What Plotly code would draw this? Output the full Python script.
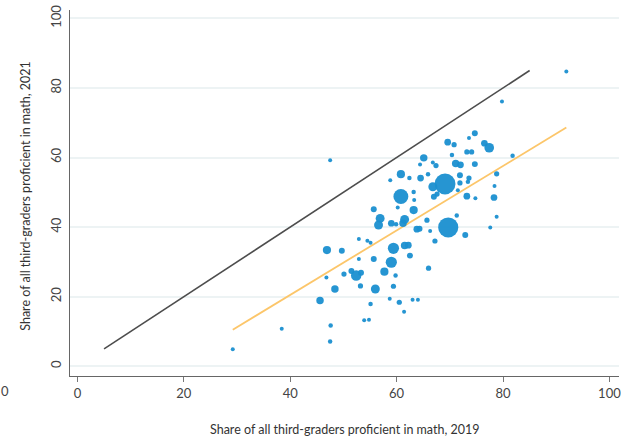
import plotly.graph_objects as go

# 2019 vs 2021 share of third-graders proficient in math (by district)
math_2019 = [74.7, 69.6, 70.8, 73.6, 76.5, 77.4, 73.2, 74.1, 70.4, 65.1,
             47.5, 81.8, 66.8, 67.4, 71.1, 72.0, 74.7, 64.4, 60.8, 64.5,
             65.9, 62.4, 58.8, 71.9, 73.6, 73.4, 78.8, 69.1, 66.8, 71.9,
             78.4, 60.8, 63.2, 63.3, 67.0, 67.6, 73.2, 74.8, 78.3, 71.5,
             55.7, 60.2, 63.2, 56.9, 56.6, 59.0, 59.9, 61.5, 61.2, 65.7,
             71.3, 78.8, 69.7, 63.8, 64.3, 77.6, 72.9, 66.3, 52.9, 54.5,
             55.1, 46.9, 49.7, 59.4, 61.5, 62.2, 67.2, 52.9, 55.7, 62.5,
             59.0, 66.0, 50.1, 51.5, 52.4, 53.3, 46.8, 57.7, 59.8, 48.4,
             53.2, 56.0, 59.4, 45.6, 55.1, 58.7, 60.5, 63.0, 64.0, 61.4,
             53.9, 54.8, 47.6, 47.5, 38.4, 29.2, 79.8, 91.9]
math_2021 = [67.0, 64.4, 63.7, 65.6, 64.1, 62.8, 61.6, 61.6, 60.7, 59.9,
             59.2, 60.5, 58.6, 57.7, 58.3, 57.9, 58.1, 58.0, 55.2, 54.1,
             55.2, 54.1, 53.5, 54.9, 54.1, 53.0, 55.3, 52.4, 51.6, 52.7,
             51.8, 48.8, 50.1, 47.8, 48.7, 49.5, 48.9, 48.3, 48.5, 50.6,
             45.1, 45.6, 44.9, 42.5, 40.6, 41.1, 40.8, 42.2, 41.1, 42.0,
             43.3, 43.0, 39.9, 39.4, 39.5, 39.9, 37.7, 38.9, 36.6, 36.1,
             35.5, 33.4, 33.2, 33.9, 34.7, 34.8, 36.0, 30.8, 30.8, 31.8,
             29.9, 28.2, 26.5, 27.4, 26.1, 26.9, 25.5, 27.2, 26.1, 22.2,
             23.1, 22.2, 23.0, 18.9, 17.9, 19.4, 18.4, 19.1, 19.1, 15.7,
             13.2, 13.4, 11.7, 7.1, 10.8, 4.9, 76.1, 84.7]
enrollment_weight = [64, 81, 49, 16, 81, 169, 49, 49, 36, 100,
                     9, 36, 25, 49, 100, 81, 64, 16, 121, 81,
                     36, 36, 16, 64, 49, 36, 49, 784, 144, 49,
                     25, 400, 36, 16, 64, 49, 81, 25, 81, 25,
                     64, 25, 121, 144, 144, 81, 36, 144, 100, 49,
                     36, 16, 729, 81, 64, 25, 64, 25, 16, 25,
                     16, 121, 64, 225, 100, 81, 49, 25, 64, 64,
                     225, 49, 49, 64, 196, 64, 16, 121, 36, 100,
                     49, 144, 49, 100, 36, 25, 49, 25, 25, 16,
                     25, 25, 36, 36, 9, 9, 25, 9]

# 45-degree reference line and fitted line endpoints
ref_x = [5, 85]
ref_y = [5, 85]
fit_x = [29.2, 91.9]
fit_y = [10.5, 68.6]

x_ticks = [0, 20, 40, 60, 80, 100]
y_ticks = [0, 20, 40, 60, 80, 100]

font_family = "Lato, 'Open Sans', sans-serif"

fig = go.Figure()
fig.add_trace(go.Scatter(x=ref_x, y=ref_y, mode="lines",
                         line=dict(color="#4d4d4d", width=1.6),
                         hoverinfo="skip", showlegend=False))
fig.add_trace(go.Scatter(x=fit_x, y=fit_y, mode="lines",
                         line=dict(color="#fcc66a", width=1.8),
                         hoverinfo="skip", showlegend=False))
fig.add_trace(go.Scatter(x=math_2019, y=math_2021, mode="markers",
                         marker=dict(size=enrollment_weight, sizemode="area",
                                     sizeref=3.6, sizemin=2.0,
                                     color="#1a8fd0", opacity=0.95,
                                     line=dict(width=0)),
                         showlegend=False))

fig.update_layout(
    width=621, height=437,
    margin=dict(l=70, r=0, t=10, b=61),
    paper_bgcolor="white", plot_bgcolor="white",
    font=dict(family=font_family, size=13, color="#444"),
    xaxis=dict(range=[-1.4, 101.8], tickvals=x_ticks, showgrid=False,
               zeroline=False, showline=True, linecolor="#666", linewidth=1.3,
               ticks="outside", ticklen=5, tickcolor="#777",
               ticklabeloverflow="allow",
               tickfont=dict(size=13, color="#444")),
    yaxis=dict(range=[-2.8, 102.4], tickvals=y_ticks, showgrid=True,
               gridcolor="#edf3f4", gridwidth=1.6, zeroline=False,
               showline=True, linecolor="#666", linewidth=1.3,
               ticks="", tickangle=-90, ticklabelstandoff=3,
               tickfont=dict(size=13, color="#444")),
    annotations=[
        dict(text="Share of all third-graders proficient in math, 2019",
             xref="paper", yref="paper", x=0.5, y=-0.145,
             xanchor="center", yanchor="middle", showarrow=False,
             font=dict(size=12.5, color="#333")),
        dict(text="Share of all third-graders proficient in math, 2021",
             xref="paper", yref="paper", x=-0.08, y=0.49, textangle=-90,
             xanchor="center", yanchor="middle", showarrow=False,
             font=dict(size=12.5, color="#333")),
        dict(text="0", xref="paper", yref="paper", x=-0.118, y=-0.04,
             xanchor="center", yanchor="middle", showarrow=False,
             font=dict(size=13, color="#444")),
    ],
)

fig.write_html("out.html", config={"displayModeBar": False})
with open("out.html", "r", encoding="utf-8") as f:
    html = f.read()
html = html.replace("<head>", "<head><style>html,body{margin:0;padding:0;overflow:hidden;}</style>", 1)
with open("out.html", "w", encoding="utf-8") as f:
    f.write(html)
